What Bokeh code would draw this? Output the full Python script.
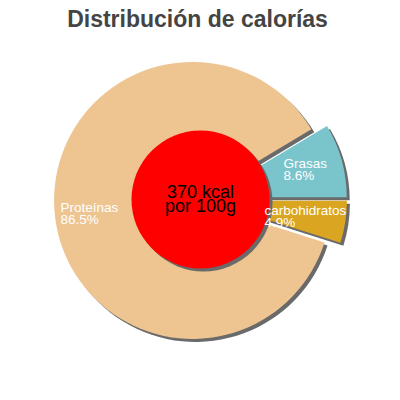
import numpy as np
from bokeh.plotting import figure
from bokeh.models import Range1d
from bokeh.core.properties import value
from bokeh.embed import file_html
from bokeh.resources import INLINE

# ---- data ----
title_text = "Distribución de calorías"
categories = ["Grasas", "Proteínas", "carbohidratos"]
percents = [8.6, 86.5, 4.9]
center_lines = ["370 kcal", "por 100g"]

# ---- style / layout ----
colors = ["#7AC4CC", "#EEC591", "#DAA520"]
shadow_color = "#6A6A6A"
W = H = 384

def sy(y):  # screen y (from top of picture) -> data y
    return 400 - y

CX, CY = 200, sy(199)
R = 138.5
EXPLODE = 8
SH_DX, SH_DY = 3, -3
INNER_R = 69
# label anchors (left, baseline of first line) in picture pixels
label_pos = [(283, 163), (60, 207), (264, 210)]
label_dy = 12

p = figure(width=W, height=H, output_backend="svg", toolbar_location=None,
           x_range=Range1d(0, W), y_range=Range1d(400 - H, 400),
           min_border=0)
p.axis.visible = False
p.grid.visible = False
p.outline_line_color = None
p.background_fill_color = "white"
p.border_fill_color = "white"

fr = np.array(percents) / 100.0
ends = np.cumsum(fr) * 2 * np.pi
starts = ends - fr * 2 * np.pi
mids = (starts + ends) / 2
xs = CX + EXPLODE * np.cos(mids)
ys = CY + EXPLODE * np.sin(mids)

# shadows
p.wedge(x=xs + SH_DX, y=ys + SH_DY, radius=R, start_angle=starts, end_angle=ends,
        fill_color=shadow_color, line_color=None)
# slices
p.wedge(x=xs, y=ys, radius=R, start_angle=starts, end_angle=ends,
        fill_color=colors, line_color=None)

# inner circle
p.circle(x=[CX + SH_DX], y=[CY + SH_DY], radius=INNER_R, fill_color=shadow_color, line_color=None)
p.circle(x=[CX], y=[CY], radius=INNER_R, fill_color="#FF0000", line_color=None)

# center text
p.text(x=[CX, CX], y=[sy(191), sy(205.5)], text=center_lines,
       text_font=value("Liberation Sans"), text_font_size="18px",
       text_color="black", text_align="center", text_baseline="alphabetic")

# slice labels
for (lx, ly), name, pc in zip(label_pos, categories, percents):
    p.text(x=[lx, lx], y=[sy(ly), sy(ly + label_dy)], text=[name, f"{pc}%"],
           text_font=value("Liberation Sans"), text_font_size="13.5px",
           text_color="white", text_align="left", text_baseline="alphabetic")

# title
p.text(x=[197], y=[sy(18)], text=[title_text], text_font=value("Liberation Sans"),
       text_font_size="23px", text_font_style="bold", text_color="#444444",
       text_align="center", text_baseline="alphabetic")

open("out.html", "w").write(file_html(p, INLINE))
